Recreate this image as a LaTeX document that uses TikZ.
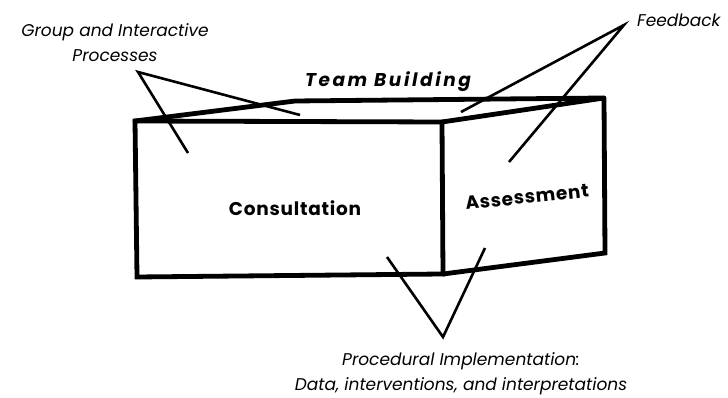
\documentclass[tikz,border=0pt]{standalone}
\usepackage{fontspec}
\setmainfont{Poppins}
\usetikzlibrary{positioning,calc}
\tikzset{
edge/.style = {line width=4.8pt, line join=miter, line cap=round},
lead/.style = {line width=2.6pt},
callout/.style = {font=\itshape\fontsize{17}{25}\selectfont, align=center, inner sep=0pt},
face/.style = {font=\bfseries\fontsize{18.5}{20}\selectfont\addfontfeatures{LetterSpace=4}, inner sep=0pt},
corner/.style = {coordinate}
}

\begin{document}
\begin{tikzpicture}[x=1pt, y=1pt]
    \useasboundingbox (0,0) rectangle (728,398);
    % corners of the box
    \coordinate [corner] (ftl) at (135,277);
    \coordinate [corner] (ftr) at (442,276);
    \coordinate [corner] (fbr) at (443,124);
    \coordinate [corner] (fbl) at (137,121);
    \coordinate [corner] (btl) at (295,297);
    \coordinate [corner] (btr) at (604,300);
    \coordinate [corner] (bbr) at (605,145);
    \draw [edge] (fbl) -- (ftl) -- (ftr) -- (fbr) -- cycle;
    \draw [edge] (ftl) -- (btl) -- (btr) -- (ftr);
    \draw [edge] (btr) -- (bbr) -- (fbr);
    % texts
    \node [face] (consult) at (295,190) {Consultation};
    \node [face, rotate=6] (assess) at (527,201) {Assessment};
    \node [face, font=\bfseries\itshape\fontsize{18.5}{20}\selectfont\addfontfeatures{LetterSpace=14}] (team) at (388,316) {Team Building};
    \node [callout] (group) at (115,355) {Group and Interactive\\Processes};
    \node [callout, anchor=west] (feed) at (637,378) {Feedback};
    \node [callout] (proc) at (461,24) {Procedural Implementation:\\Data, interventions, and interpretations};
    % leader lines
    \coordinate (ga) at (138,326);
    \coordinate (g1) at (300,283);
    \coordinate (g2) at (188,245);
    \coordinate (fa) at (624,373);
    \coordinate (f1) at (461,286);
    \coordinate (f2) at (509,236);
    \coordinate (pa) at (443,61);
    \coordinate (p1) at (387,141);
    \coordinate (p2) at (485,150);
    \draw [lead] (g1) -- (ga) -- (g2);
    \draw [lead] (f1) -- (fa) -- (f2);
    \draw [lead] (p1) -- (pa) -- (p2);
\end{tikzpicture}
\end{document}
